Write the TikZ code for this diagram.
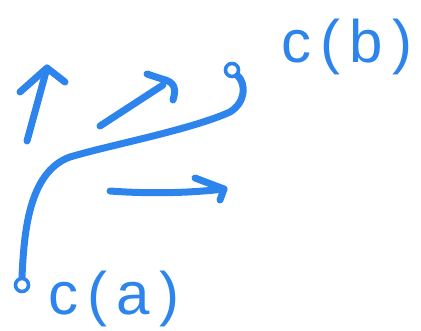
\documentclass[tikz,border=0pt]{standalone}
\usepackage{fontspec}
\setmainfont{Liberation Sans}
\begin{document}
\begin{tikzpicture}[x=1pt,y=-1pt,
  ink/.style={draw=pen, line width=7pt, line cap=round, line join=round},
  dot/.style={circle, draw=pen, line width=3.6pt, inner sep=0pt, minimum size=13pt},
  label/.style={text=pen, font=\fontsize{60}{60}\selectfont\addfontfeature{LetterSpace=15}, inner sep=0pt}]
\definecolor{pen}{RGB}{44,132,236}
\useasboundingbox (0,0) rectangle (421,331);
% end points of the path
\node[dot] (a) at (22,285) {};
\node[dot] (b) at (232,70) {};
\node[label] (la) at (114,299) {c(a)};
\node[label] (lb) at (347,47) {c(b)};
% the path from c(a) to c(b)
\draw[ink] (a.north) .. controls (24,235) and (28,172) .. (70,157)
  .. controls (110,145) and (190,130) .. (230,112)
  .. controls (246,102) and (246,84) .. (b.south east);
% upward arrow
\coordinate (u0) at (27,141);
\coordinate (u1) at (47,68);
\draw[ink] (u0) -- (u1);
\draw[ink] (20,92) -- (u1) -- (65,82);
% slanted arrow
\coordinate (s0) at (100,126);
\coordinate (s1) at (163,85);
\draw[ink] (s0) -- (s1);
\draw[ink] (147,74) -- (162,79) .. controls (176,82) and (176,90) .. (173,100);
% horizontal arrow
\coordinate (h0) at (110,191);
\coordinate (h1) at (224,189);
\draw[ink] (h0) .. controls (150,194) and (190,193) .. (h1);
\draw[ink] (195,178) -- (h1) -- (220,200);
\end{tikzpicture}
\end{document}
